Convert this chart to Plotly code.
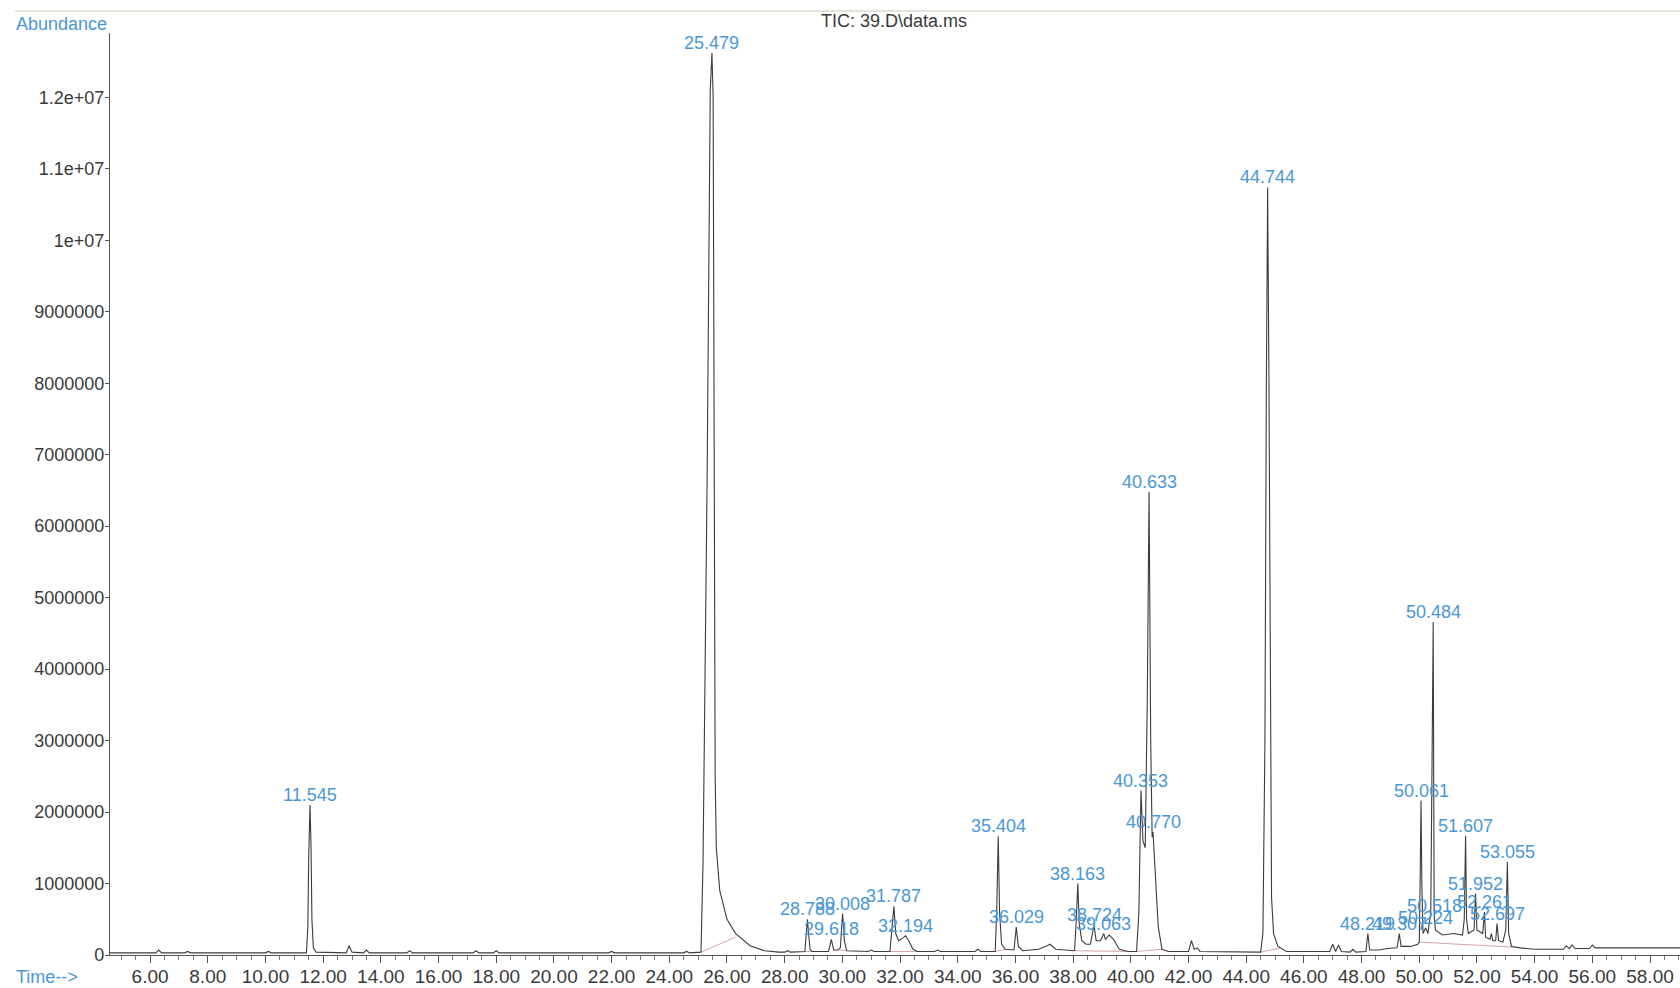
import plotly.graph_objects as go

# ---------------- data ----------------
# retention time (min) and abundance (millions of counts) of the TIC trace vertices
trace_time = [
    4.61, 6.20, 6.30, 6.40, 7.20, 7.30, 7.40, 10.00, 10.10, 10.20,
    11.42, 11.47, 11.50, 11.545, 11.58, 11.61, 11.66, 11.75,
    12.80, 12.90, 13.00, 13.40, 13.50, 13.60, 14.90, 15.00, 15.10,
    17.20, 17.30, 17.40, 17.90, 18.00, 18.10, 21.90, 22.00, 22.10,
    24.50, 24.60, 24.70,
    25.10, 25.17, 25.31, 25.42, 25.479, 25.52, 25.56, 25.59, 25.63, 25.75, 26.00, 26.30, 26.80, 27.30, 27.80,
    28.00, 28.10, 28.20,
    28.70, 28.75, 28.788, 28.83, 28.88, 28.95,
    29.52, 29.618, 29.70, 29.85, 29.93, 30.008, 30.07, 30.15,
    30.90, 31.00, 31.10,
    31.65, 31.72, 31.787, 31.85, 31.95, 32.10, 32.194, 32.30, 32.45, 32.60,
    33.20, 33.30, 33.40, 34.60, 34.70, 34.80,
    35.30, 35.35, 35.404, 35.45, 35.52, 35.65,
    35.95, 36.029, 36.10, 36.25,
    36.80, 37.10, 37.20, 37.40,
    38.05, 38.11, 38.163, 38.21, 38.30, 38.45,
    38.60, 38.724, 38.80, 38.95, 39.063, 39.12, 39.25, 39.40, 39.60, 39.90,
    40.20, 40.28, 40.353, 40.42, 40.50, 40.57, 40.633, 40.69, 40.74, 40.770, 40.85, 40.95, 41.08, 41.30,
    42.00, 42.10, 42.20, 42.30, 42.40,
    44.50, 44.58, 44.65, 44.70, 44.744, 44.79, 44.84, 44.88, 44.95, 45.10, 45.40,
    46.90, 47.00, 47.10, 47.20, 47.30, 47.60, 47.70, 47.80,
    48.15, 48.219, 48.28, 48.60, 48.90,
    49.23, 49.307, 49.37, 49.70, 49.95,
    50.00, 50.03, 50.061, 50.09, 50.13, 50.224, 50.30, 50.40, 50.45, 50.484, 50.50, 50.518, 50.56,
    50.80, 51.20, 51.50, 51.56, 51.607, 51.64, 51.70, 51.90, 51.952, 52.00, 52.20, 52.261, 52.30,
    52.45, 52.50, 52.55, 52.65, 52.697, 52.75, 52.90, 53.00, 53.055, 53.10, 53.20, 53.50, 54.00,
    55.00, 55.10, 55.20, 55.30, 55.40, 55.90, 56.00, 56.10, 57.00, 58.00, 59.04,
]
trace_abund_m = [
    0.03, 0.03, 0.07, 0.03, 0.03, 0.05, 0.03, 0.03, 0.05, 0.03,
    0.03, 0.40, 1.40, 2.10, 1.50, 0.50, 0.10, 0.04,
    0.03, 0.13, 0.04, 0.03, 0.07, 0.03, 0.03, 0.06, 0.03,
    0.03, 0.06, 0.03, 0.03, 0.06, 0.03, 0.03, 0.05, 0.03,
    0.03, 0.05, 0.03,
    0.04, 1.30, 6.60, 12.10, 12.62, 12.00, 6.60, 2.50, 1.50, 0.90, 0.50, 0.30, 0.13, 0.06, 0.04,
    0.04, 0.06, 0.04,
    0.05, 0.30, 0.50, 0.30, 0.08, 0.05,
    0.05, 0.22, 0.07, 0.07, 0.10, 0.58, 0.20, 0.06,
    0.05, 0.07, 0.05,
    0.05, 0.35, 0.68, 0.30, 0.20, 0.24, 0.27, 0.20, 0.08, 0.05,
    0.05, 0.07, 0.05, 0.05, 0.08, 0.05,
    0.05, 0.60, 1.66, 0.60, 0.15, 0.08,
    0.07, 0.39, 0.12, 0.06,
    0.08, 0.13, 0.15, 0.08,
    0.06, 0.50, 1.00, 0.45, 0.20, 0.15,
    0.15, 0.42, 0.20, 0.20, 0.30, 0.22, 0.28, 0.22, 0.08, 0.05,
    0.05, 0.60, 2.30, 1.60, 1.50, 3.50, 6.48, 3.00, 1.65, 1.72, 1.20, 0.40, 0.08, 0.05,
    0.05, 0.20, 0.08, 0.10, 0.05,
    0.04, 0.30, 3.00, 8.00, 10.74, 8.00, 3.00, 0.80, 0.30, 0.12, 0.05,
    0.05, 0.15, 0.05, 0.14, 0.05, 0.04, 0.08, 0.04,
    0.05, 0.30, 0.07, 0.07, 0.09,
    0.10, 0.30, 0.12, 0.12, 0.15,
    0.18, 1.00, 2.16, 1.00, 0.30, 0.38, 0.30, 0.60, 2.50, 4.66, 2.50, 0.55, 0.35,
    0.28, 0.30, 0.28, 0.50, 1.67, 0.50, 0.30, 0.35, 0.86, 0.35, 0.30, 0.60, 0.25,
    0.22, 0.30, 0.20, 0.20, 0.44, 0.20, 0.18, 0.35, 1.30, 0.30, 0.12, 0.10, 0.08,
    0.08, 0.13, 0.09, 0.14, 0.09, 0.09, 0.14, 0.10, 0.10, 0.10, 0.10,
]

# integration baselines (pairs separated by None), abundance in millions
baseline_time = [25.10, 26.30, None, 28.70, 28.95, None, 29.90, 30.15, None,
                 31.65, 32.60, None, 35.30, 35.65, None, 38.05, 39.90, None,
                 40.20, 41.10, None, 44.50, 45.20, None, 50.00, 53.30]
baseline_abund_m = [0.04, 0.25, None, 0.05, 0.05, None, 0.07, 0.06, None,
                    0.05, 0.05, None, 0.05, 0.08, None, 0.06, 0.05, None,
                    0.05, 0.08, None, 0.04, 0.10, None, 0.18, 0.11]

# labelled peaks: text, retention time, apex abundance (millions)
peak_labels = ["11.545", "25.479", "28.788", "29.618", "30.008", "31.787", "32.194",
               "35.404", "36.029", "38.163", "38.724", "39.063", "40.353", "40.633",
               "40.770", "44.744", "48.219", "49.307", "50.224", "50.061", "50.484",
               "50.518", "51.607", "51.952", "52.261", "52.697", "53.055"]
peak_rt = [11.545, 25.479, 28.788, 29.618, 30.008, 31.787, 32.194,
           35.404, 36.029, 38.163, 38.724, 39.063, 40.353, 40.633,
           40.770, 44.744, 48.219, 49.307, 50.224, 50.061, 50.484,
           50.518, 51.607, 51.952, 52.261, 52.697, 53.055]
peak_apex_m = [2.10, 12.62, 0.50, 0.22, 0.58, 0.68, 0.27,
               1.66, 0.39, 1.00, 0.42, 0.30, 2.30, 6.48,
               1.72, 10.74, 0.30, 0.30, 0.38, 2.16, 4.66,
               0.55, 1.67, 0.86, 0.60, 0.44, 1.30]

x_tick_vals = [6, 8, 10, 12, 14, 16, 18, 20, 22, 24, 26, 28, 30, 32, 34, 36, 38, 40,
               42, 44, 46, 48, 50, 52, 54, 56, 58]
x_tick_text = ["6.00", "8.00", "10.00", "12.00", "14.00", "16.00", "18.00", "20.00",
               "22.00", "24.00", "26.00", "28.00", "30.00", "32.00", "34.00", "36.00",
               "38.00", "40.00", "42.00", "44.00", "46.00", "48.00", "50.00", "52.00",
               "54.00", "56.00", "58.00"]
y_tick_vals_m = [0, 1, 2, 3, 4, 5, 6, 7, 8, 9, 10, 11, 12]
y_tick_text = ["0", "1000000", "2000000", "3000000", "4000000", "5000000", "6000000",
               "7000000", "8000000", "9000000", "1e+07", "1.1e+07", "1.2e+07"]

# ---------------- figure ----------------
M = 1e6
to_counts = lambda arr: [None if v is None else v * M for v in arr]

FONT = "Liberation Sans, Arial, sans-serif"
BLUE = "#4a97d6"
TEXT = "#3a3a3a"

fig = go.Figure()
fig.add_trace(go.Scatter(x=baseline_time, y=to_counts(baseline_abund_m), mode="lines",
                         line=dict(color="#d9a3a3", width=1), hoverinfo="skip",
                         showlegend=False))
fig.add_trace(go.Scatter(x=trace_time, y=to_counts(trace_abund_m), mode="lines",
                         line=dict(color="#3c3c3c", width=1.1), showlegend=False))

for txt, rt, h in zip(peak_labels, peak_rt, peak_apex_m):
    fig.add_annotation(x=rt, y=h * M, text=txt, showarrow=False, xanchor="center",
                       yanchor="bottom", yshift=-2,
                       font=dict(family=FONT, size=18, color=BLUE))

fig.add_annotation(xref="paper", yref="paper", x=-0.0306, y=1.0098, text="Abundance",
                   showarrow=False, xanchor="center", yanchor="middle",
                   font=dict(family=FONT, size=18, color=BLUE))
fig.add_annotation(xref="paper", yref="paper", x=-0.040, y=-0.0239, text="Time-->",
                   showarrow=False, xanchor="center", yanchor="middle",
                   font=dict(family=FONT, size=18, color=BLUE))
fig.add_annotation(xref="paper", yref="paper", x=0.4994, y=1.013, text="TIC: 39.D\\data.ms",
                   showarrow=False, xanchor="center", yanchor="middle",
                   font=dict(family=FONT, size=18, color=TEXT))

fig.add_shape(type="line", xref="paper", yref="paper", x0=-0.0605, x1=1.0,
              y0=1.0239, y1=1.0239, line=dict(color="#d6dccd", width=1.5))

fig.update_layout(
    width=1680, height=988, autosize=False,
    margin=dict(l=110, r=0, t=33, b=33),
    paper_bgcolor="white", plot_bgcolor="white",
    font=dict(family=FONT, color=TEXT),
    xaxis=dict(range=[4.61, 59.04], tickvals=x_tick_vals, ticktext=x_tick_text,
               automargin=False,
               showgrid=False, zeroline=False, showline=True, linecolor="#555",
               linewidth=1, ticks="outside", ticklen=7, tickcolor="#555",
               ticklabelstandoff=-3,
               tickfont=dict(family=FONT, size=19, color=TEXT),
               minor=dict(dtick=0.5, tick0=0, ticks="outside", ticklen=4,
                          tickcolor="#777", showgrid=False)),
    yaxis=dict(range=[0, 12.9e6], tickvals=[v * M for v in y_tick_vals_m],
               ticktext=y_tick_text, automargin=False,
               showgrid=False, zeroline=False, showline=True,
               linecolor="#555", linewidth=1.2, ticks="outside", ticklen=4,
               ticklabelstandoff=-3,
               tickcolor="#555", tickfont=dict(family=FONT, size=18, color=TEXT)),
)

# the page otherwise keeps the browser's default 8px body margin around the figure
fig.write_html("out.html", config={"displayModeBar": False},
               post_script="document.body.style.margin='0px';")
